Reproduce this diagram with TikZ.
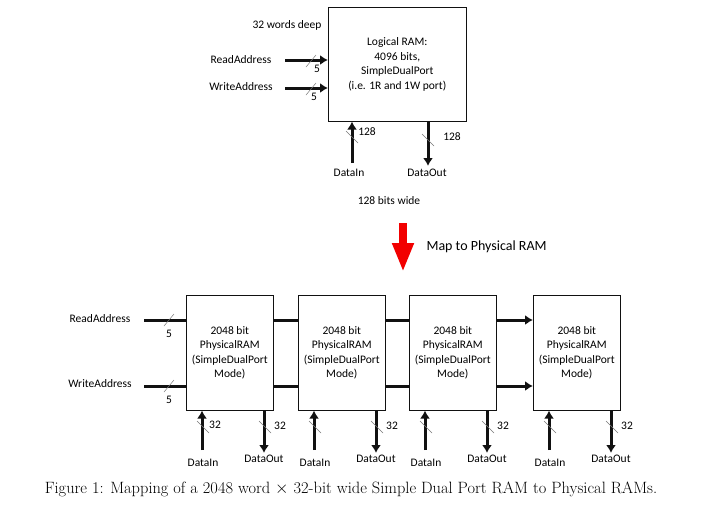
\documentclass[tikz,border=0pt]{standalone}
\usepackage{fontspec}
\usetikzlibrary{arrows.meta,positioning}
\newfontfamily\carl{Carlito}
\definecolor{ink}{HTML}{111111}
\definecolor{mapred}{HTML}{F20000}
\definecolor{tickgray}{HTML}{777777}
% small bus-width strokes
\newcommand{\hmark}[1]{\draw[tick] ([shift={(-5,6)}]#1) -- ([shift={(5,-6)}]#1);}
\newcommand{\vmark}[1]{\draw[tick] ([shift={(-6,-6)}]#1) -- ([shift={(6,6)}]#1);}

\begin{document}
\begin{tikzpicture}[x=1pt,y=-1pt,font=\carl\fontsize{11.5}{14.5}\selectfont,
    >={Latex[length=8pt,width=10pt]},
    ram/.style={draw=ink,line width=0.6pt,minimum width=87pt,minimum height=115pt,
                align=center,anchor=north west,inner sep=0pt},
    bus/.style={draw=ink,line width=3pt},
    tick/.style={draw=tickgray,line width=0.5pt}]
  \useasboundingbox[fill=white] (0,0) rectangle (705,504);

  % logical RAM
  \node[ram,minimum width=138pt,minimum height=114pt] (lram) at (328,7)
    {Logical RAM:\\4096 bits,\\SimpleDualPort\\(i.e. 1R and 1W port)};
  \node (deep) at (287,25) {32 words deep};
  \node (raddr) at (241,60) {ReadAddress};
  \node (waddr) at (241,87) {WriteAddress};
  \coordinate (ra0) at (285,60);
  \coordinate (wa0) at (285,88);
  \draw[bus,->] (ra0) -- (ra0 -| lram.west);
  \draw[bus,->] (wa0) -- (wa0 -| lram.west);
  \coordinate (ram) at (311,61);
  \coordinate (wam) at (311,89);
  \hmark{ram}
  \hmark{wam}
  \node (ran) at (317,69) {5};
  \node (wan) at (314,97) {5};

  \node (ldin) at (349,173) {DataIn};
  \node (ldout) at (427,173) {DataOut};
  \coordinate (ldi0) at (352,163);
  \coordinate (ldo1) at (428,166);
  \draw[bus,->] (ldi0) -- (ldi0 |- lram.south);
  \draw[bus,->] (ldo1 |- lram.south) -- (ldo1);
  \coordinate (ldim) at (352,137);
  \coordinate (ldom) at (428,140);
  \vmark{ldim}
  \vmark{ldom}
  \node (ldin_n) at (367,132) {128};
  \node (ldout_n) at (452,137) {128};
  \node (wide) at (389,201) {128 bits wide};

  % mapping arrow
  \coordinate (map0) at (403,223);
  \coordinate (map1) at (403,272);
  \draw[mapred,line width=8pt,-{Triangle[length=29pt,width=20pt]}] (map0) -- (map1);
  \node[anchor=west,font=\carl\fontsize{14}{17}\selectfont] (maptxt) at (423,247) {Map to Physical RAM};

  % physical RAMs
  \foreach \i/\x in {1/186,2/298,3/409,4/533}{
    \node[ram] (pram\i) at (\x,295) {2048 bit\\PhysicalRAM\\(SimpleDualPort\\Mode)};
    \node (din\i) at (\x+17,463) {DataIn};
    \node (dout\i) at (\x+78,459) {DataOut};
    \coordinate (dinb\i) at (\x+16,450);
    \coordinate (doutb\i) at (\x+78,453);
    \draw[bus,->] (dinb\i) -- (dinb\i |- pram\i.south);
    \draw[bus,->] (doutb\i |- pram\i.south) -- (doutb\i);
    \coordinate (dinm\i) at (\x+17,427);
    \coordinate (doutm\i) at (\x+79,427);
    \vmark{dinm\i}
    \vmark{doutm\i}
    \node (doutn\i) at (\x+94,426) {32};
  }
  \node (din1n) at (215,425) {32};

  \node (praddr) at (100,319) {ReadAddress};
  \node (pwaddr) at (100,384) {WriteAddress};
  \coordinate (rd) at (144,320);
  \coordinate (wr) at (144,386);
  \draw[bus] (rd) -- (rd -| pram1.west);
  \draw[bus] (wr) -- (wr -| pram1.west);
  \draw[bus] (pram1.east |- rd) -- (pram2.west |- rd);
  \draw[bus] (pram1.east |- wr) -- (pram2.west |- wr);
  \draw[bus] (pram2.east |- rd) -- (pram3.west |- rd);
  \draw[bus] (pram2.east |- wr) -- (pram3.west |- wr);
  \draw[bus,->] (pram3.east |- rd) -- (pram4.west |- rd);
  \draw[bus,->] (pram3.east |- wr) -- (pram4.west |- wr);
  \coordinate (rdm) at (169,320);
  \coordinate (wrm) at (169,386);
  \hmark{rdm}
  \hmark{wrm}
  \node (rdn) at (169,334) {5};
  \node (wrn) at (169,400) {5};

  \node[font=\rmfamily\fontsize{16.4}{19}\selectfont] (cap) at (351,489)
    {Figure 1: Mapping of a 2048 word $\times$ 32-bit wide Simple Dual Port RAM to Physical RAMs.};
\end{tikzpicture}
\end{document}
